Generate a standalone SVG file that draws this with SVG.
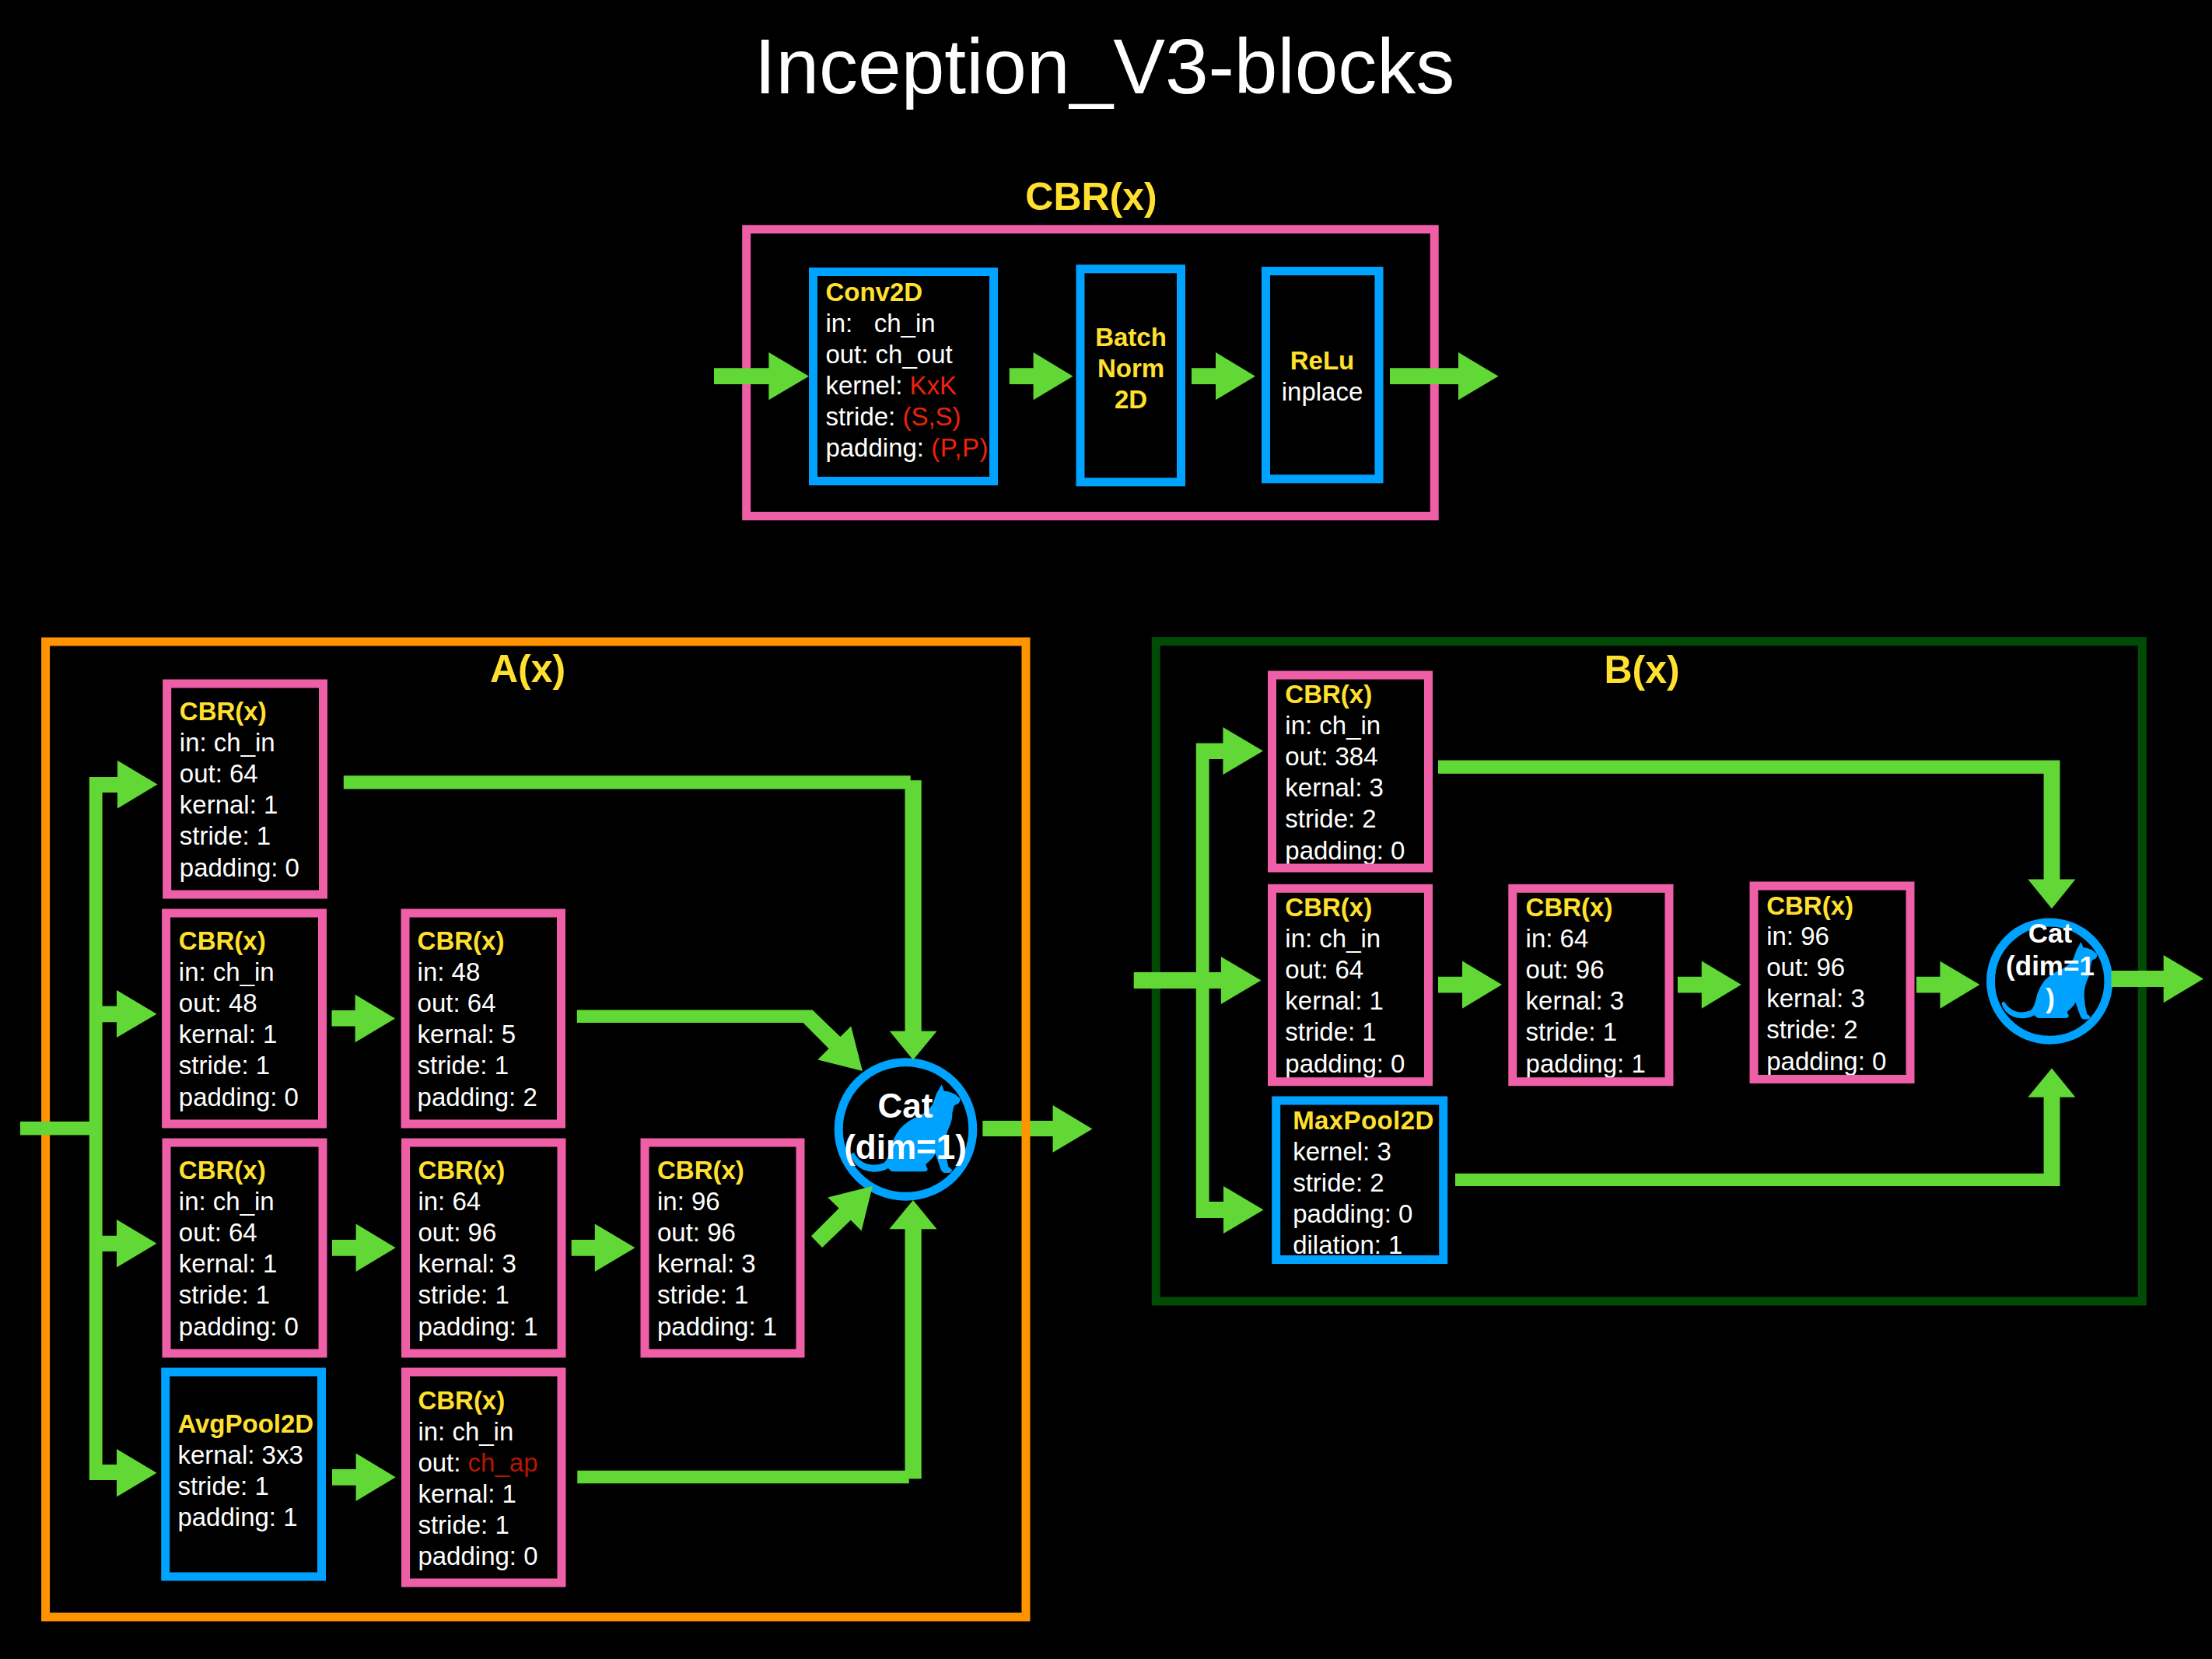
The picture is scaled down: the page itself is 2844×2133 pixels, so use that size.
<svg xmlns="http://www.w3.org/2000/svg" xmlns:xlink="http://www.w3.org/1999/xlink" width="2844" height="2133" viewBox="0 0 2844 2133">
<style>
text{font-family:"Liberation Sans",Arial,sans-serif;font-size:33px;fill:#fff}
.h{font-weight:bold;fill:#ffe02f}
.big{font-weight:bold;fill:#ffe02f;font-size:50px;text-anchor:middle}
.mid{text-anchor:middle}
.cat{font-weight:bold;text-anchor:middle;font-size:44px}
.catb{font-size:35px}
.r{fill:#ee220c}
.dr{fill:#b51700}
.box{fill:none;stroke-width:11}
.p{stroke:#ef5fa7}
.b{stroke:#00a2ff}
.g{fill:#61d836}
</style>
<defs>
<path id="catshape" fill="#00a2ff" d="M372 78 L392 43 L402 68 Q430 70 448 84 L463 97 Q464 112 455 118 Q440 122 438 132 Q432 150 432 175 Q428 195 418 215 Q404 250 406 285 Q408 325 418 360 L432 372 Q432 382 422 384 L402 384 Q392 382 386 362 Q376 335 368 310 Q358 330 334 348 Q328 354 336 364 Q342 374 330 379 L205 379 Q195 378 186 366 Q165 380 130 380 Q85 378 60 350 Q45 332 42 315 Q46 302 55 308 Q70 335 100 348 Q135 360 170 345 Q185 330 192 300 Q198 260 230 215 Q262 180 305 165 Q342 145 358 118 Q366 95 372 78 Z"/>
</defs>
<rect width="2844" height="2133" fill="#000"/>
<text id="title" x="1420" y="120" text-anchor="middle" style="font-size:100px">Inception_V3-blocks</text>

<g id="frames">
<g id="frame-cbr"><rect class="box p" x="959.7" y="294.8" width="884.5" height="368.7"/><text class="big" x="1403" y="270">CBR(x)</text></g>
<g id="frame-a"><rect class="box" stroke="#ff9300" x="58.6" y="825" width="1260.4" height="1254"/><text class="big" x="678.5" y="877">A(x)</text></g>
<g id="frame-b"><rect class="box" stroke="#024b06" x="1486.2" y="824.6" width="1268.1" height="848.4"/><text class="big" x="2111" y="878">B(x)</text></g>
</g>

<g id="cbr-conv"><text class="h" x="1061.4" y="386.5">Conv2D</text><text x="1061.4" y="427" xml:space="preserve">in:   ch_in</text><text x="1061.4" y="466.5">out: ch_out</text><text x="1061.4" y="506.5">kernel: <tspan class="r">KxK</tspan></text><text x="1061.4" y="546.5">stride: <tspan class="r">(S,S)</tspan></text><text x="1061.4" y="586.5">padding: <tspan class="r" style="letter-spacing:.6px">(P,P)</tspan></text><rect class="box b" x="1045.5" y="349.5" width="232" height="269"/></g>
<g id="cbr-batch"><text class="h mid" x="1454" y="444.5">Batch</text><text class="h mid" x="1454" y="484.5">Norm</text><text class="h mid" x="1454" y="524.5">2D</text><rect class="box b" x="1389" y="345.8" width="129.5" height="274"/></g>
<g id="cbr-relu"><text class="h mid" x="1700" y="474.5">ReLu</text><text class="mid" x="1700" y="514.5">inplace</text><rect class="box b" x="1627.5" y="348.5" width="145.5" height="267.3"/></g>

<g id="a-1"><text class="h" x="230.8" y="926">CBR(x)</text><text x="230.8" y="966">in: ch_in</text><text x="230.8" y="1006">out: 64</text><text x="230.8" y="1046">kernal: 1</text><text x="230.8" y="1086">stride: 1</text><text x="230.8" y="1126.5">padding: 0</text><rect class="box p" x="214.7" y="879" width="200.8" height="271"/></g>
<g id="a-2"><text class="h" x="229.8" y="1221">CBR(x)</text><text x="229.8" y="1261">in: ch_in</text><text x="229.8" y="1301">out: 48</text><text x="229.8" y="1341">kernal: 1</text><text x="229.8" y="1381">stride: 1</text><text x="229.8" y="1421.5">padding: 0</text><rect class="box p" x="213.6" y="1174" width="200.9" height="271"/></g>
<g id="a-3"><text class="h" x="536.6" y="1221">CBR(x)</text><text x="536.6" y="1261">in: 48</text><text x="536.6" y="1301">out: 64</text><text x="536.6" y="1341">kernal: 5</text><text x="536.6" y="1381">stride: 1</text><text x="536.6" y="1421.5">padding: 2</text><rect class="box p" x="521" y="1174" width="200.5" height="271"/></g>
<g id="a-4"><text class="h" x="229.8" y="1515.5">CBR(x)</text><text x="229.8" y="1555.5">in: ch_in</text><text x="229.8" y="1595.5">out: 64</text><text x="229.8" y="1635.5">kernal: 1</text><text x="229.8" y="1675.5">stride: 1</text><text x="229.8" y="1716.5">padding: 0</text><rect class="box p" x="214" y="1469" width="201" height="271"/></g>
<g id="a-5"><text class="h" x="537.4" y="1515.5">CBR(x)</text><text x="537.4" y="1555.5">in: 64</text><text x="537.4" y="1595.5">out: 96</text><text x="537.4" y="1635.5">kernal: 3</text><text x="537.4" y="1675.5">stride: 1</text><text x="537.4" y="1716.5">padding: 1</text><rect class="box p" x="521.5" y="1469" width="200.5" height="271"/></g>
<g id="a-6"><text class="h" x="845" y="1515.5">CBR(x)</text><text x="845" y="1555.5">in: 96</text><text x="845" y="1595.5">out: 96</text><text x="845" y="1635.5">kernal: 3</text><text x="845" y="1675.5">stride: 1</text><text x="845" y="1716.5">padding: 1</text><rect class="box p" x="829" y="1469" width="200" height="271"/></g>
<g id="a-7"><text class="h" x="228.4" y="1842">AvgPool2D</text><text x="228.4" y="1882">kernal: 3x3</text><text x="228.4" y="1922">stride: 1</text><text x="228.4" y="1962">padding: 1</text><rect class="box b" x="212.7" y="1764" width="200.8" height="263"/></g>
<g id="a-8"><text class="h" x="537.4" y="1812">CBR(x)</text><text x="537.4" y="1851.5">in: ch_in</text><text x="537.4" y="1891.5">out: <tspan class="dr">ch_ap</tspan></text><text x="537.4" y="1931.5">kernal: 1</text><text x="537.4" y="1971.5">stride: 1</text><text x="537.4" y="2011.5">padding: 0</text><rect class="box p" x="521.5" y="1764" width="200.5" height="271"/></g>
<g id="a-cat"><circle class="box b" cx="1164.5" cy="1452" r="86.3"/><use xlink:href="#catshape" href="#catshape" transform="translate(1080 1380) scale(.33333)"/><text class="cat" x="1164" y="1437">Cat</text><text class="cat" x="1164" y="1490">(dim=1)</text></g>

<g id="b-1"><text class="h" x="1652.3" y="904">CBR(x)</text><text x="1652.3" y="943.5">in: ch_in</text><text x="1652.3" y="983.5">out: 384</text><text x="1652.3" y="1023.5">kernal: 3</text><text x="1652.3" y="1063.5">stride: 2</text><text x="1652.3" y="1104.5">padding: 0</text><rect class="box p" x="1635.5" y="868" width="201" height="248"/></g>
<g id="b-2"><text class="h" x="1652.3" y="1178">CBR(x)</text><text x="1652.3" y="1217.5">in: ch_in</text><text x="1652.3" y="1257.5">out: 64</text><text x="1652.3" y="1297.5">kernal: 1</text><text x="1652.3" y="1337.5">stride: 1</text><text x="1652.3" y="1378.5">padding: 0</text><rect class="box p" x="1635.5" y="1142.3" width="201" height="248.4"/></g>
<g id="b-3"><text class="h" x="1961.6" y="1178">CBR(x)</text><text x="1961.6" y="1217.5">in: 64</text><text x="1961.6" y="1257.5">out: 96</text><text x="1961.6" y="1297.5">kernal: 3</text><text x="1961.6" y="1337.5">stride: 1</text><text x="1961.6" y="1378.5">padding: 1</text><rect class="box p" x="1944.8" y="1142.3" width="201.2" height="248.4"/></g>
<g id="b-4"><text class="h" x="2271.2" y="1175.5">CBR(x)</text><text x="2271.2" y="1214.5">in: 96</text><text x="2271.2" y="1254.5">out: 96</text><text x="2271.2" y="1294.5">kernal: 3</text><text x="2271.2" y="1334.5">stride: 2</text><text x="2271.2" y="1375.5">padding: 0</text><rect class="box p" x="2255" y="1139" width="201" height="248.5"/></g>
<g id="b-5"><text class="h" x="1662.2" y="1452" style="letter-spacing:.4px">MaxPool2D</text><text x="1662.2" y="1491.5">kernel: 3</text><text x="1662.2" y="1531.5">stride: 2</text><text x="1662.2" y="1571.5">padding: 0</text><text x="1662.2" y="1612">dilation: 1</text><rect class="box b" x="1640.7" y="1415" width="215" height="204.5"/></g>
<g id="b-cat"><circle class="box b" cx="2635.2" cy="1261.6" r="75.7"/><use xlink:href="#catshape" href="#catshape" transform="translate(2561.3 1198.4) scale(.29167)"/><text class="cat catb" x="2636" y="1212">Cat</text><text class="cat catb" x="2636" y="1254">(dim=1</text><text class="cat catb" x="2636" y="1296">)</text></g>

<g id="connectors" class="g">
<polygon points="918,473.3 988.4,473.3 988.4,453 1040,483.7 988.4,514.3 988.4,494 918,494"/>
<polygon points="1297.8,473.3 1328.6,473.3 1328.6,453 1379.5,483.7 1328.6,514.3 1328.6,494 1297.8,494"/>
<polygon points="1532,473.3 1563,473.3 1563,453 1613.9,483.7 1563,514.3 1563,494 1532,494"/>
<polygon points="1787,473.3 1875,473.3 1875,453 1926.5,483.7 1875,514.3 1875,494 1787,494"/>
<rect x="26" y="1442" width="90" height="17.4"/>
<polygon points="114.8,999 151,999 151,977.8 202.5,1008.6 151,1039.4 151,1019 131.6,1019 131.6,1293.5 150,1293.5 150,1273 201.5,1303.8 150,1334 150,1314.3 131.6,1314.3 131.6,1588.8 150,1588.8 150,1568 201.5,1598.7 150,1629.5 150,1609 131.6,1609 131.6,1883 150,1883 150,1863 201.5,1893.7 150,1924.4 150,1903 114.8,1903"/>
<polygon points="426.5,1299 456.6,1299 456.6,1278.7 508,1309.5 456.6,1340.3 456.6,1319.5 426.5,1319.5"/>
<polygon points="427,1594 457.6,1594 457.6,1573.6 508.7,1604.3 457.6,1635 457.6,1614.8 427,1614.8"/>
<polygon points="734.7,1594 764.8,1594 764.8,1573.6 816.5,1604.3 764.8,1635 764.8,1614.8 734.7,1614.8"/>
<polygon points="427,1888.9 457.6,1888.9 457.6,1868.5 508.7,1899.3 457.6,1930 457.6,1909.7 427,1909.7"/>
<polygon points="441.8,997.3 1170.7,997.3 1170.7,1003.3 1184.7,1003.3 1184.7,1325.7 1204.5,1325.7 1174,1362.8 1143.8,1325.7 1163.5,1325.7 1163.5,1014.5 441.8,1014.5"/>
<polygon points="741.8,1298.5 1044.6,1298.5 1080.4,1332.9 1094.2,1319.5 1108.9,1376.9 1051.3,1362.4 1065.6,1348.2 1032.6,1315 741.8,1315"/>
<polygon points="1057.1,1603.9 1093.8,1568.7 1107.6,1582.5 1121.9,1525 1064.3,1539.6 1078.6,1553.4 1042.9,1589.3"/>
<polygon points="742.3,1890.7 1163.5,1890.7 1163.5,1580.2 1143.3,1580.2 1174,1543 1204.5,1580.2 1184.7,1580.2 1184.7,1901.3 1168.7,1901.3 1168.7,1907.3 742.3,1907.3"/>
<polygon points="1263.4,1440.9 1353.6,1440.9 1353.6,1421 1404.5,1451.4 1353.6,1481.8 1353.6,1461 1263.4,1461"/>
<polygon points="1457.7,1250 1537.8,1250 1537.8,955.4 1572.4,955.4 1572.4,935 1624,965.5 1572.4,996 1572.4,976 1554.6,976 1554.6,1250 1569.9,1250 1569.9,1230 1621.4,1260.5 1569.9,1291 1569.9,1271 1554.6,1271 1554.6,1545 1573,1545 1573,1525 1624.5,1555.5 1573,1586 1573,1566 1537.8,1566 1537.8,1271 1457.7,1271"/>
<polygon points="1849,977.6 2648.5,977.6 2648.5,1130.4 2668.4,1130.4 2638,1168.2 2607.3,1130.4 2627.6,1130.4 2627.6,994.8 1849,994.8"/>
<polygon points="1849,1255.8 1880,1255.8 1880,1235.5 1931,1266 1880,1296.7 1880,1276.5 1849,1276.5"/>
<polygon points="2157,1255.8 2187.8,1255.8 2187.8,1235.5 2238.8,1266 2187.8,1296.7 2187.8,1276.5 2157,1276.5"/>
<polygon points="2463.9,1255.8 2494.4,1255.8 2494.4,1235.7 2545.3,1266 2494.4,1296.7 2494.4,1276.5 2463.9,1276.5"/>
<polygon points="2714.4,1248 2781.7,1248 2781.7,1227.9 2833,1258.6 2781.7,1289.2 2781.7,1269 2714.4,1269"/>
<polygon points="1871,1508.7 2627.6,1508.7 2627.6,1410.7 2607.3,1410.7 2638,1373.4 2668.4,1410.7 2648.5,1410.7 2648.5,1525 1871,1525"/>
</g>
<rect id="orange-over-arrow" x="1313.4" y="1440.9" width="11.2" height="20.1" fill="#ff9300"/>
</svg>
